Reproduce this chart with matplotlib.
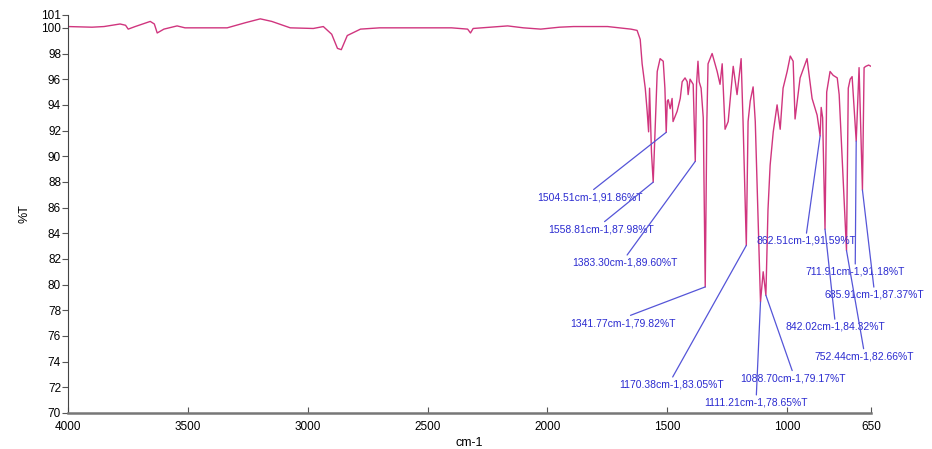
import numpy as np
import matplotlib
matplotlib.use("Agg")
import matplotlib.pyplot as plt

plt.rcParams["font.family"] = ["Liberation Sans", "DejaVu Sans"]

# ---------- spectrum (wavenumber cm-1, %T) ----------
wavenumber = [
    4000, 3900, 3850, 3783, 3760, 3749, 3720, 3657, 3640, 3628, 3600, 3545, 3512,
    3336, 3260, 3198, 3150, 3073, 2977, 2935, 2900, 2876, 2860, 2835, 2780, 2700,
    2600, 2400, 2333, 2321, 2310, 2166, 2100, 2028, 1950, 1891, 1800, 1749, 1700,
    1652, 1626, 1613, 1605, 1592, 1584, 1578, 1574, 1566, 1558.81, 1551, 1542,
    1530, 1517, 1510, 1504.51, 1500, 1496, 1488, 1480, 1476, 1459, 1446, 1438,
    1426, 1417, 1413, 1405, 1392, 1383.30, 1378, 1372, 1367, 1359, 1350, 1341.77,
    1335, 1330, 1313, 1292, 1280, 1271, 1259, 1246, 1225, 1209, 1192, 1184,
    1170.38, 1163, 1154, 1142, 1133, 1111.21, 1100, 1088.70, 1080, 1071, 1058,
    1042, 1029, 1017, 1000, 987, 975, 967, 946, 917, 896, 875, 862.51, 858, 852,
    842.02, 835, 821, 808, 791, 783, 752.44, 745, 737, 729, 711.91, 700, 685.91,
    679, 672, 660, 650,
]
transmittance = [
    100.1, 100.05, 100.1, 100.3, 100.2, 99.9, 100.1, 100.5, 100.3, 99.6, 99.9, 100.15, 100.0,
    100.0, 100.4, 100.7, 100.5, 100.0, 99.95, 100.1, 99.5, 98.4, 98.3, 99.4, 99.9, 100.0,
    100.0, 100.0, 99.9, 99.6, 99.95, 100.15, 100.0, 99.9, 100.05, 100.1, 100.1, 100.1, 100.0,
    99.9, 99.8, 99.1, 97.2, 95.3, 93.5, 91.9, 95.3, 90.3, 87.98, 92.0, 96.6,
    97.6, 97.4, 95.3, 91.86, 94.3, 94.4, 93.7, 94.5, 92.7, 93.5, 94.5, 95.8,
    96.1, 95.8, 94.8, 96.0, 95.6, 89.60, 95.6, 97.4, 95.8, 95.3, 93.0, 79.82,
    92.7, 97.2, 98.0, 96.6, 95.6, 97.2, 92.1, 92.7, 97.0, 94.8, 97.6, 92.7,
    83.05, 92.7, 94.3, 95.4, 92.7, 78.65, 81.0, 79.17, 85.8, 89.3, 91.9,
    94.0, 92.1, 95.3, 96.6, 97.8, 97.4, 92.9, 96.1, 97.6, 94.5, 93.2, 91.59, 93.8, 93.0,
    84.32, 95.0, 96.6, 96.3, 96.1, 94.8, 82.66, 95.3, 96.0, 96.2, 91.18, 96.9, 87.37,
    96.9, 97.0, 97.1, 97.0,
]

# ---------- peak labels ----------
peak_wn = [1504.51, 1558.81, 1383.30, 1341.77, 1170.38, 1088.70,
           1111.21, 862.51, 711.91, 685.91, 842.02, 752.44]
peak_t = [91.86, 87.98, 89.60, 79.82, 83.05, 79.17,
          78.65, 91.59, 91.18, 87.37, 84.32, 82.66]
# where each label text sits (wavenumber, %T)
label_wn = [1822, 1776, 1676, 1684, 1484, 975, 1129, 921, 716, 637, 800, 679]
label_t = [86.8, 84.3, 81.7, 77.0, 72.2, 72.7, 70.8, 83.4, 81.0, 79.2, 76.7, 74.4]

x_ticks = [4000, 3500, 3000, 2500, 2000, 1500, 1000, 650]
y_ticks = list(range(70, 101, 2)) + [101]

fig = plt.figure(figsize=(9.32, 4.49), dpi=100)
ax = fig.add_axes([0.073, 0.0802, 0.8616, 0.8864])

ax.plot(wavenumber, transmittance, color="#d0357e", lw=1.0)

for wn, t, lx, ly in zip(peak_wn, peak_t, label_wn, label_t):
    ax.annotate("%.2fcm-1,%.2f%%T" % (wn, t), xy=(wn, t), xytext=(lx, ly),
                ha="center", va="center", fontsize=7.5, color="#2b2bd0",
                annotation_clip=False,
                arrowprops=dict(arrowstyle="-", color="#5555d8", lw=0.9,
                                relpos=(0.5, 1.0), shrinkA=0, shrinkB=0))

ax.set_xlim(4000, 650)
ax.set_ylim(70, 101)
ax.set_xticks(x_ticks)
ax.set_yticks(y_ticks)
ax.tick_params(axis="x", direction="in", length=4, labelsize=8.5, pad=6, color="#555555")
ax.tick_params(axis="y", direction="out", length=4, labelsize=8.5, pad=1, color="#555555")

for side in ["top", "right"]:
    ax.spines[side].set_visible(False)
ax.spines["left"].set_color("#444444")
ax.spines["bottom"].set_color("#777777")
ax.spines["bottom"].set_linewidth(1.8)

ax.set_xlabel("cm-1", fontsize=9, labelpad=3)
ax.set_ylabel("%T", fontsize=9, labelpad=8)

fig.savefig("out.png", dpi=100)
